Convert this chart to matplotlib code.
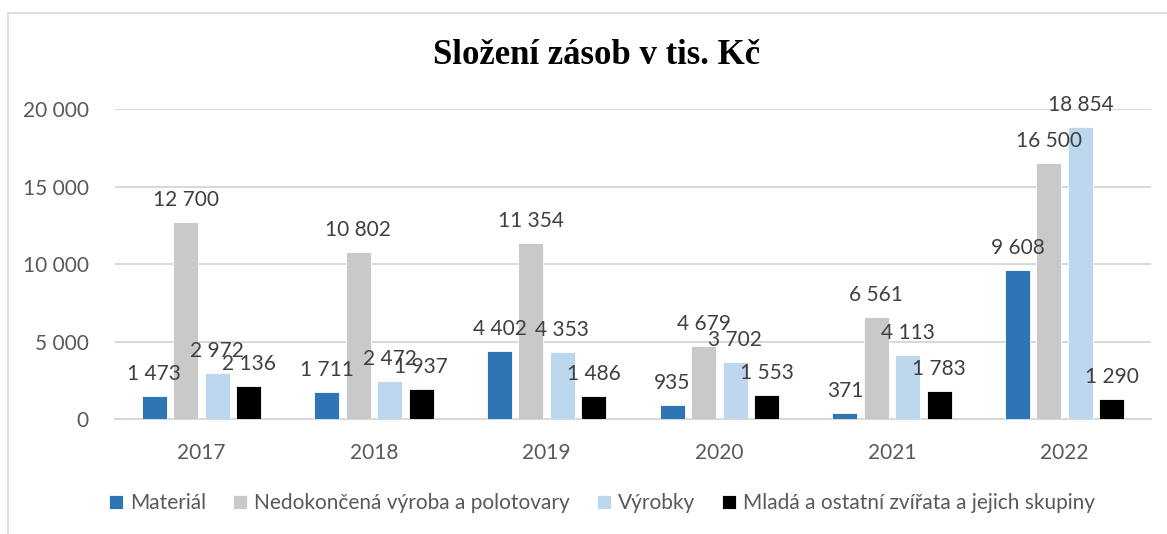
import numpy as np
import matplotlib
matplotlib.use("Agg")
import matplotlib.pyplot as plt
from matplotlib.patches import Rectangle

#%% data
years = ["2017", "2018", "2019", "2020", "2021", "2022"]
series_names = ["Materiál", "Nedokončená výroba a polotovary", "Výrobky",
                "Mladá a ostatní zvířata a jejich skupiny"]
material = [1473, 1711, 4402, 935, 371, 9608]
nedokoncena = [12700, 10802, 11354, 4679, 6561, 16500]
vyrobky = [2972, 2472, 4353, 3702, 4113, 18854]
zvirata = [2136, 1937, 1486, 1553, 1783, 1290]
colors = ["#2E75B6", "#C9C9C9", "#BDD7EE", "#000000"]

def fmt(v):
    return f"{v:,}".replace(",", " ")

plt.rcParams['font.family'] = ['Lato', 'DejaVu Sans']

fig = plt.figure(figsize=(11.67, 5.34), dpi=100)
# chart frame
fig.patches.append(Rectangle((8/1167, -0.1), 1.2, 1 - 13/534 + 0.1,
                             transform=fig.transFigure, fill=False,
                             edgecolor="#D9D9D9", linewidth=1.2))

ax = fig.add_axes([115/1167, 1 - 419/534, (1151 - 115)/1167, (419 - 109)/534])
x = np.arange(len(years))
step = 0.182
width = 0.145
all_series = [material, nedokoncena, vyrobky, zvirata]
for i, (vals, name, c) in enumerate(zip(all_series, series_names, colors)):
    pos = x + (i - 1.5) * step
    ax.bar(pos, vals, width, color=c, label=name, zorder=3,
           edgecolor="white", linewidth=0.6)
    for p, v in zip(pos, vals):
        ax.annotate(fmt(v), (p, v), xytext=(0, 16), textcoords="offset pixels",
                    ha="center", va="baseline", fontsize=15, color="#404040",
                    annotation_clip=False, zorder=5)

ax.set_xlim(-0.5, len(years) - 0.5)
ax.set_ylim(0, 20000)
ax.set_yticks(np.arange(0, 20001, 5000))
ax.set_yticklabels([fmt(v) for v in range(0, 20001, 5000)])
ax.set_xticks(x)
ax.set_xticklabels(years)
ax.tick_params(axis="both", length=0, labelsize=15, labelcolor="#595959")
ax.tick_params(axis="y", pad=19)
ax.tick_params(axis="x", pad=17)
ax.grid(axis="y", color="#D9D9D9", linewidth=1.5, zorder=0)
for s in ["top", "right", "left"]:
    ax.spines[s].set_visible(False)
ax.spines["bottom"].set_color("#D9D9D9")
ax.spines["bottom"].set_linewidth(1.5)

fig.text(0.511, 1 - 55/534, "Složení zásob v tis. Kč", ha="center", va="center",
         fontsize=25, fontweight="bold", family="Liberation Serif")

leg = fig.legend(loc="center", bbox_to_anchor=(0.516, 1 - 503/534), ncol=4,
                 frameon=False, fontsize=15, handlelength=0.65, handleheight=0.65,
                 handletextpad=0.35, columnspacing=1.3)
for t in leg.get_texts():
    t.set_color("#595959")

fig.savefig("out.png", dpi=100)
